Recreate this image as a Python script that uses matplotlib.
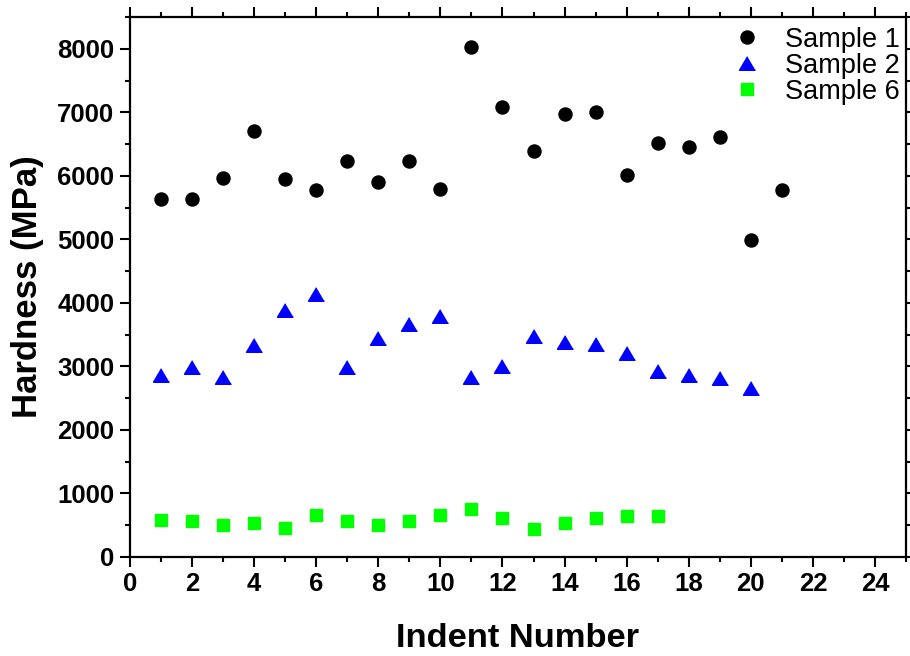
import matplotlib
matplotlib.use("Agg")
import matplotlib.pyplot as plt
from matplotlib.ticker import MultipleLocator

plt.rcParams['font.family'] = ['Liberation Sans', 'DejaVu Sans']

# Hardness measurements per indent (MPa)
indent_s1 = list(range(1, 22))
hardness_s1 = [5640, 5630, 5960, 6710, 5950, 5770, 6240, 5910, 6230, 5800,
               8030, 7080, 6390, 6980, 7000, 6010, 6520, 6460, 6610, 4990, 5780]

indent_s2 = list(range(1, 21))
hardness_s2 = [2866, 2997, 2835, 3344, 3895, 4147, 2990, 3449, 3672, 3790,
               2835, 3008, 3480, 3389, 3360, 3213, 2932, 2866, 2816, 2661]

indent_s6 = list(range(1, 18))
hardness_s6 = [575, 559, 509, 540, 454, 653, 559, 509, 564, 655,
               748, 606, 433, 527, 606, 637, 637]

labels = ["Sample 1", "Sample 2", "Sample 6"]

fig = plt.figure(figsize=(9.10, 6.56), dpi=100)
ax = fig.add_axes([0.1429, 0.151, 0.8527, 0.823])

tri = [(0, 0.85), (-1, -0.85), (1, -0.85)]
ax.plot(indent_s1, hardness_s1, linestyle='none', marker='o', ms=9.4,
        color='black', label=labels[0])
ax.plot(indent_s2, hardness_s2, linestyle='none', marker=tri, ms=11.5,
        color='#0000ff', label=labels[1])
ax.plot(indent_s6, hardness_s6, linestyle='none', marker='s', ms=8.4,
        color='#00ff00', label=labels[2])

ax.set_xlim(0, 25)
ax.set_ylim(0, 8500)
ax.xaxis.set_major_locator(MultipleLocator(2))
ax.xaxis.set_minor_locator(MultipleLocator(1))
ax.yaxis.set_major_locator(MultipleLocator(1000))
ax.yaxis.set_minor_locator(MultipleLocator(500))

for s in ax.spines.values():
    s.set_linewidth(1.6)

ax.tick_params(which='both', direction='out', top=True, right=True,
               labeltop=False, labelright=False, width=1.5)
ax.tick_params(which='major', length=7.2, labelsize=18.5, pad=4)
ax.tick_params(which='minor', length=3.6)
for lab in ax.get_xticklabels() + ax.get_yticklabels():
    lab.set_fontweight('bold')

ax.set_xlabel("Indent Number", fontsize=24.8, fontweight='bold', labelpad=19)
ax.set_ylabel("Hardness (MPa)", fontsize=25, fontweight='bold')
ax.yaxis.set_label_coords(-0.1108, 0.5)

leg = ax.legend(loc='upper right', bbox_to_anchor=(1.009, 1.007),
                frameon=False, fontsize=19.5,
                labelspacing=0.0, handletextpad=0.6, borderaxespad=0.2,
                handlelength=1.6, borderpad=0.3)

fig.savefig("out.png", dpi=100)
